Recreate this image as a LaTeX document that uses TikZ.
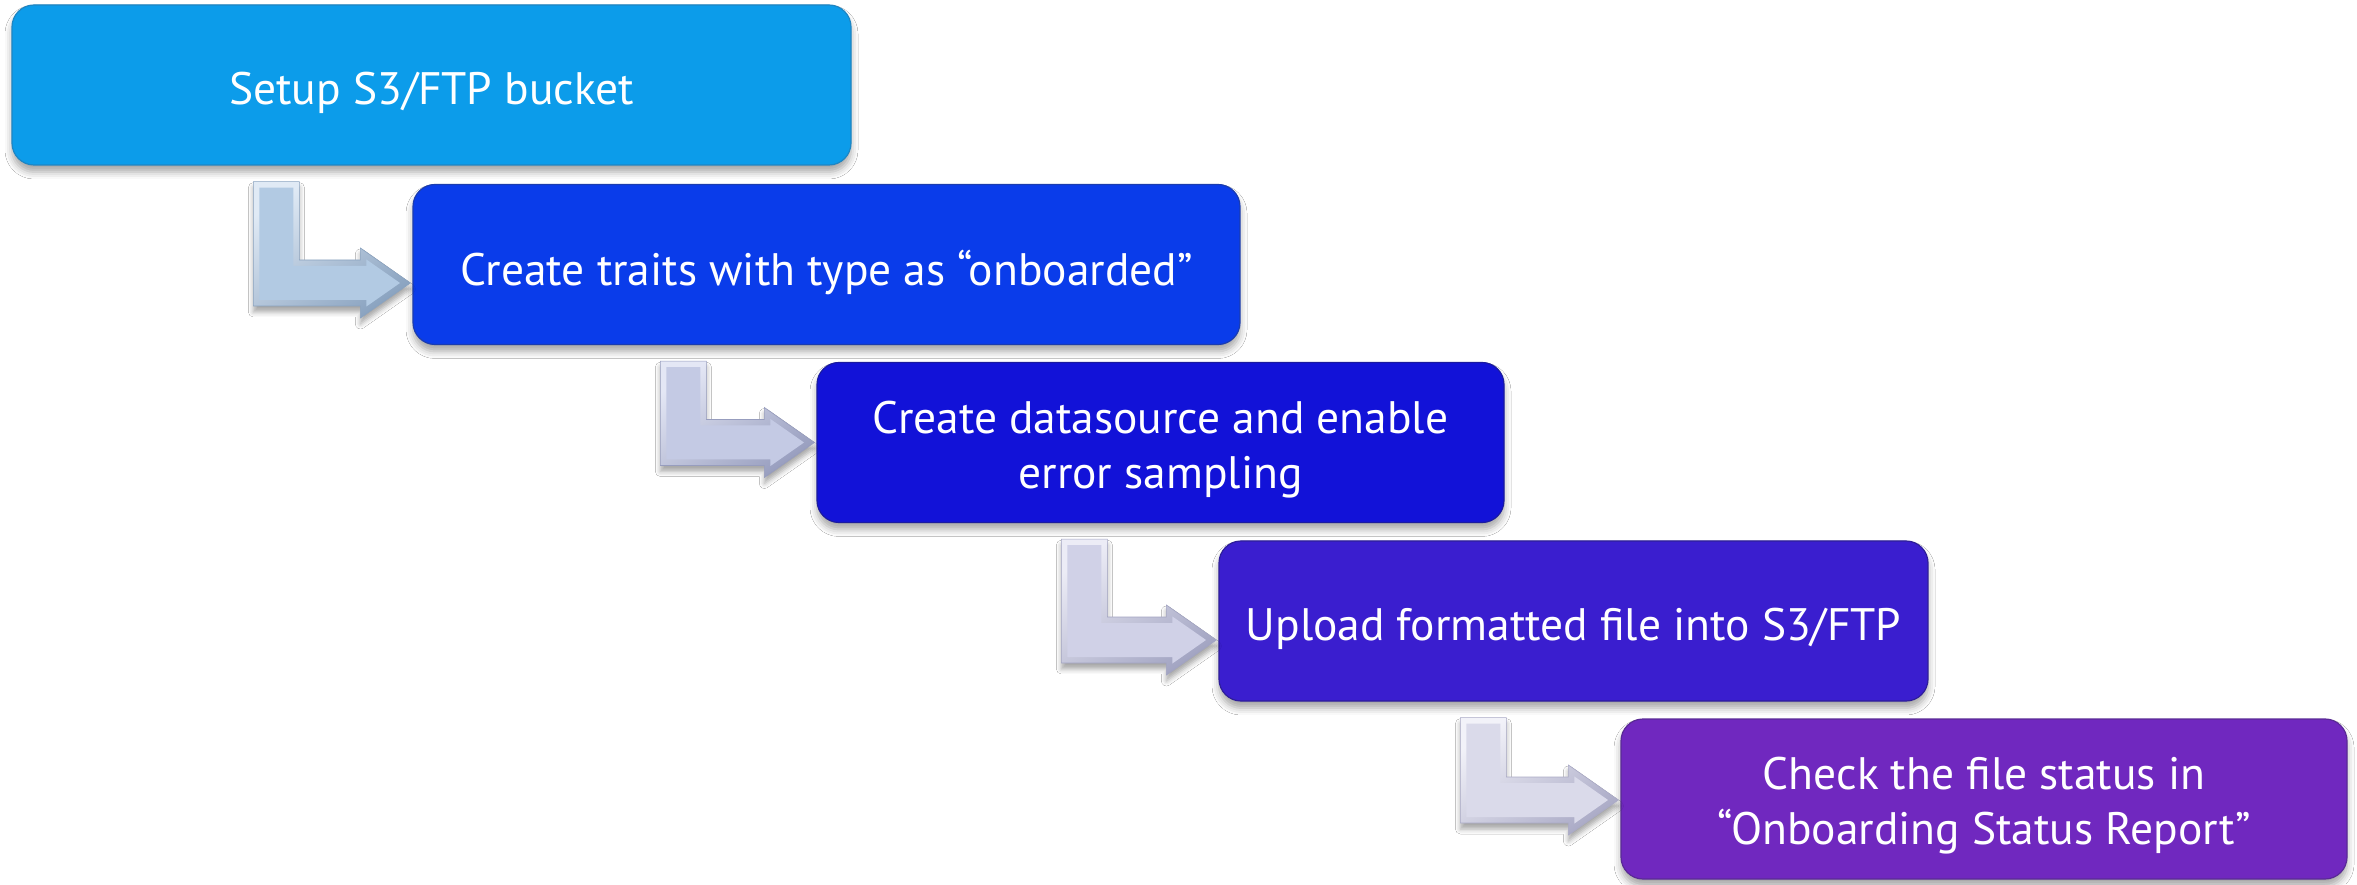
\documentclass[tikz,border=0pt]{standalone}
\usepackage{fontspec}
\setmainfont{PT Sans}
\usetikzlibrary{calc,shadows.blur}
% box colours: main / gloss / border
\definecolor{m1}{HTML}{0C9CEA}\definecolor{g1}{HTML}{4CB9F3}\definecolor{d1}{HTML}{1E86C4}
\definecolor{m2}{HTML}{0A3CEA}\definecolor{g2}{HTML}{3F6AF2}\definecolor{d2}{HTML}{1A3CB0}
\definecolor{m3}{HTML}{1212D8}\definecolor{g3}{HTML}{4444E4}\definecolor{d3}{HTML}{1A1AA0}
\definecolor{m4}{HTML}{3A1ECF}\definecolor{g4}{HTML}{6450DE}\definecolor{d4}{HTML}{2E1E9A}
\definecolor{m5}{HTML}{7028BF}\definecolor{g5}{HTML}{9058D2}\definecolor{d5}{HTML}{5A2A96}
% arrow colours: face / light / dark
\definecolor{af1}{HTML}{B2CAE3}\definecolor{al1}{HTML}{E0EAF5}\definecolor{ad1}{HTML}{8AA3C0}
\definecolor{af2}{HTML}{C4CAE4}\definecolor{al2}{HTML}{E4E7F5}\definecolor{ad2}{HTML}{979DBE}
\definecolor{af3}{HTML}{D0D1E7}\definecolor{al3}{HTML}{ECECF6}\definecolor{ad3}{HTML}{A2A4C2}
\definecolor{af4}{HTML}{DADAEA}\definecolor{al4}{HTML}{F2F2F9}\definecolor{ad4}{HTML}{AAAAC6}
\newcommand\mkshade[3]{\pgfdeclareverticalshading{#1}{100bp}{%
  color(0bp)=(#3!60!#2); color(7bp)=(#3!35!#2); color(15bp)=(#2); color(75bp)=(#2);
  color(90bp)=(#3!80!#2); color(100bp)=(#3)}}
\mkshade{s1}{m1}{g1}
\mkshade{s2}{m2}{g2}
\mkshade{s3}{m3}{g3}
\mkshade{s4}{m4}{g4}
\mkshade{s5}{m5}{g5}
\tikzset{
  box/.style={rounded corners=22pt, minimum height=160pt, inner sep=0pt,
    line width=1.2pt,
    blur shadow={shadow xshift=0pt, shadow yshift=-7pt, shadow blur radius=7pt, shadow opacity=35}},
  txt/.style={inner sep=0pt, text=white, font=\fontsize{45.5}{55}\selectfont, align=center,
    text depth=0pt},
  arrowbody/.style={line width=0.6pt,
    blur shadow={shadow xshift=0pt, shadow yshift=-6pt, shadow blur radius=5pt, shadow opacity=35}},
}
% #1 source node, #2 target node, #3 bar offset from source west, #4 tip offset from target centre,
% #5 face, #6 light, #7 dark
\newcommand\bentarrow[7]{%
  \path let \p3=($(#1.south west)+(#3,-16)$), \p4=($(#2.west)+(-52,#4)$), \p5=($(#2.west)+(-2,#4)$) in
    [arrowbody, top color=#6, bottom color=#7, shading angle=35, draw=#7]
    (\x3,\y3) -- ({\x3+46pt},\y3) -- ({\x3+46pt},{\y4+23pt}) -- (\x4,{\y4+23pt}) -- (\x4,{\y4+35pt})
    -- (\x5,\y4) -- (\x4,{\y4-35pt}) -- (\x4,{\y4-23pt}) -- (\x3,{\y4-23pt}) -- cycle;
  \path let \p3=($(#1.south west)+(#3,-16)$), \p4=($(#2.west)+(-52,#4)$), \p5=($(#2.west)+(-2,#4)$) in
    [fill=#5]
    ({\x3+6pt},{\y3-6pt}) -- ({\x3+40pt},{\y3-6pt}) -- ({\x3+40pt},{\y4+17pt}) -- ({\x4+6pt},{\y4+17pt})
    -- ({\x4+6pt},{\y4+23.5pt}) -- ({\x5-10.4pt},\y4) -- ({\x4+6pt},{\y4-23.5pt}) -- ({\x4+6pt},{\y4-17pt})
    -- ({\x3+6pt},{\y4-17pt}) -- cycle;
}
\begin{document}
\begin{tikzpicture}[x=1pt,y=1pt]
\fill[white] (0,0) rectangle (2357,884);
\useasboundingbox (0,0) rectangle (2357,884);
\node[box, shading=s1, draw=d1, minimum width=839pt] (b1) at (431.5,799) {};
\node[box, shading=s2, draw=d2, minimum width=827pt] (b2) at (826.5,619.5) {};
\node[box, shading=s3, draw=d3, minimum width=687pt] (b3) at (1160.5,441.5) {};
\node[box, shading=s4, draw=d4, minimum width=709pt] (b4) at (1573.5,263) {};
\node[box, shading=s5, draw=d5, minimum width=726pt] (b5) at (1984,85) {};
\node[txt] (t1) at ([yshift=-3.5pt]b1.center) {Setup S3/FTP bucket};
\node[txt] (t2) at ([yshift=-3.5pt]b2.center) {Create traits with type as “onboarded”};
\node[txt] (t3) at ([yshift=-2.5pt]b3.center) {Create datasource and enable\\error sampling};
\node[txt] (t4) at ([yshift=-3.5pt]b4.center) {Upload formatted file into S3/FTP};
\node[txt] (t5) at ([yshift=-2pt]b5.center) {Check the file status in\\“Onboarding Status Report”};
\bentarrow{b1}{b2}{242}{-18.5}{af1}{al1}{ad1}
\bentarrow{b2}{b3}{248}{0}{af2}{al2}{ad2}
\bentarrow{b3}{b4}{245}{-19}{af3}{al3}{ad3}
\bentarrow{b4}{b5}{242}{-1}{af4}{al4}{ad4}
\end{tikzpicture}
\end{document}
